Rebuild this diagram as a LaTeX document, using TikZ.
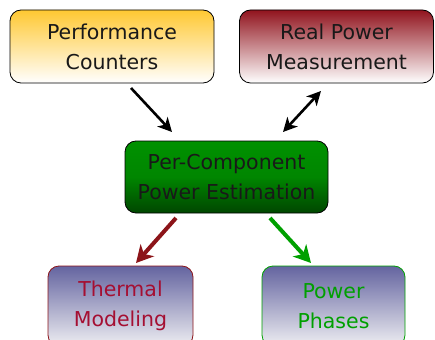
\documentclass[tikz,border=0pt]{standalone}
\usepackage{fontspec}
\setmainfont{DejaVu Sans}
\usetikzlibrary{arrows.meta}
\definecolor{gold}{RGB}{255,200,50}
\definecolor{wine}{RGB}{145,20,30}
\definecolor{gtop}{RGB}{0,145,0}
\definecolor{gbot}{RGB}{0,70,0}
\definecolor{ltop}{RGB}{100,100,160}
\definecolor{lbot}{RGB}{238,238,242}
\definecolor{crim}{RGB}{165,15,50}
\definecolor{dred}{RGB}{140,20,25}
\definecolor{grn}{RGB}{0,160,0}
\definecolor{ink}{RGB}{25,25,25}
\tikzset{
  box/.style={draw, rounded corners=11pt, line width=0.8pt, align=center,
    font=\fontsize{20.5}{30}\selectfont, inner sep=0pt},
  arr/.style={line width=2.6pt, -{Stealth[length=14pt,width=14pt,inset=4pt]}},
  darr/.style={line width=2.6pt, {Stealth[length=14pt,width=14pt,inset=4pt]}-{Stealth[length=14pt,width=14pt,inset=4pt]}},
  farr/.style={line width=4pt, -{Stealth[length=17pt,width=18pt,inset=5pt]}}
}
\begin{document}
\begin{tikzpicture}[x=1pt,y=-1pt]
\useasboundingbox (0,0) rectangle (435,339);
\node[box, text=ink, top color=gold, bottom color=white, minimum width=204pt, minimum height=73pt] (pc) at (112,46.5) {Performance\\Counters};
\node[box, text=ink, top color=wine, bottom color=white, minimum width=194pt, minimum height=73pt] (rp) at (336.5,46.5) {Real Power\\Measurement};
\node[box, text=ink, top color=gtop, bottom color=gbot, middle color=gtop!85!gbot, minimum width=203pt, minimum height=72pt] (pe) at (226.5,177) {Per-Component\\Power Estimation};
\node[box, draw=dred, text=crim, top color=ltop, bottom color=lbot, minimum width=145pt, minimum height=80pt] (tm) at (120.5,306) {Thermal\\Modeling};
\node[box, draw=grn, text=grn, top color=ltop, bottom color=lbot, minimum width=143pt, minimum height=80pt] (pp) at (333.5,306) {Power\\Phases};
\coordinate (a1s) at (131,88);
\coordinate (a1e) at (172,132);
\coordinate (a2s) at (283,132);
\coordinate (a2e) at (321,91);
\coordinate (a3s) at (176,218);
\coordinate (a3e) at (136,263);
\coordinate (a4s) at (270,218);
\coordinate (a4e) at (311,263);
\draw[arr] (a1s) -- (a1e);
\draw[darr] (a2s) -- (a2e);
\draw[farr, draw=dred, fill=dred] (a3s) -- (a3e);
\draw[farr, draw=grn, fill=grn] (a4s) -- (a4e);
\end{tikzpicture}
\end{document}
